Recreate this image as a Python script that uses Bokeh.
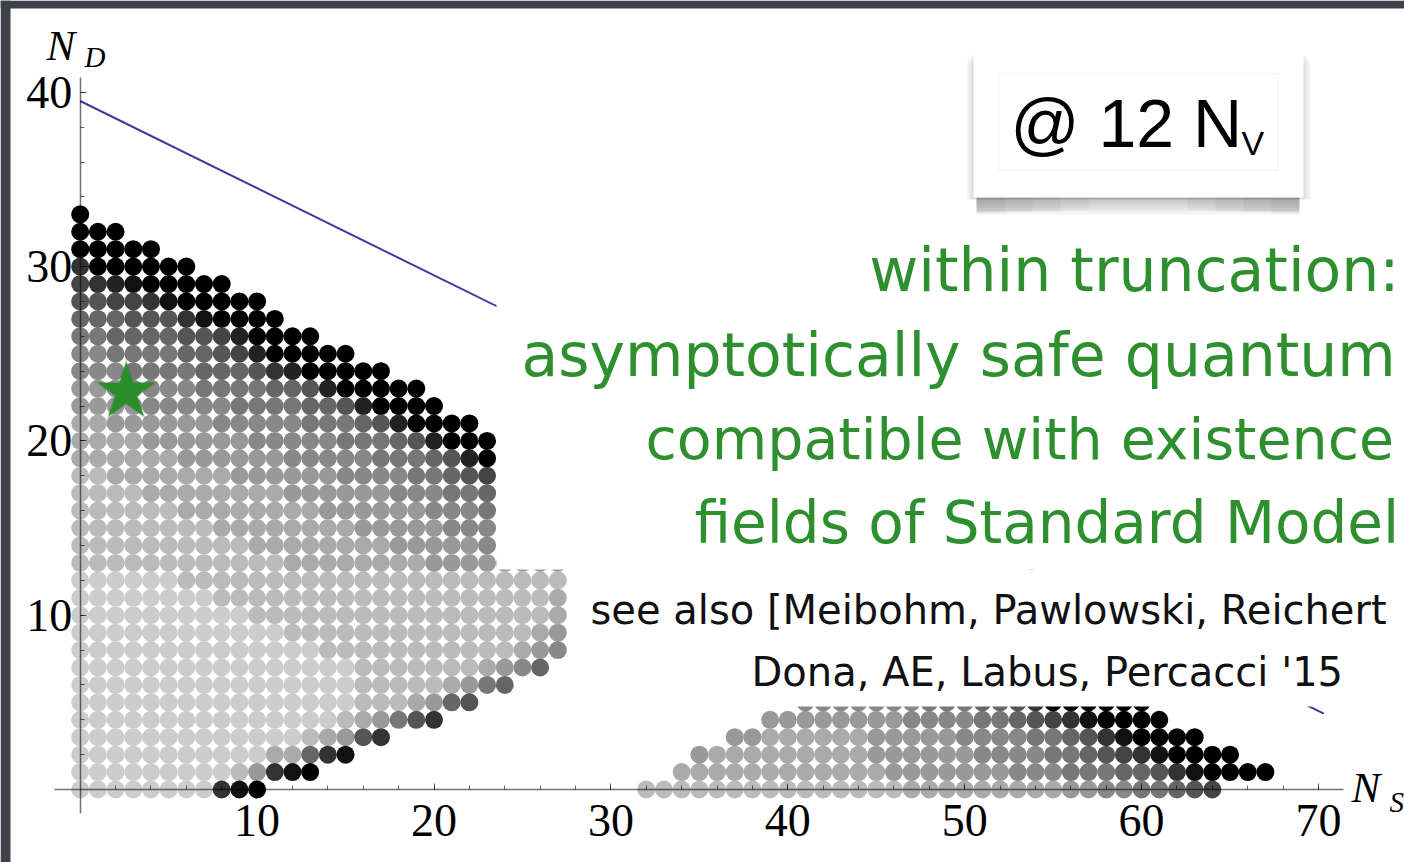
from bokeh.plotting import figure
from bokeh.models import Range1d, FixedTicker, BoxAnnotation, Label, ColumnDataSource
from bokeh.embed import file_html
from bokeh.resources import INLINE

# ---------------- data ----------------
# grey level of every dot, run-length coded per row: "<hex grey>*<count>", left to right
left_nd = [33, 32, 31, 30, 29, 28, 27, 26, 25, 24, 23, 22, 21, 20, 19, 18, 17,
           16, 15, 14, 13, 12, 11, 10, 9, 8, 7, 6, 5, 4, 3, 2, 1, 0]
left_ns_start = [0] * 34
left_grey = [
    "0*1",
    "0*3",
    "0*5",
    "3*1 0*6",
    "4*1 3*1 2*1 1*1 0*5",
    "5*2 4*2 3*1 1*1 0*5",
    "6*3 5*3 3*1 1*1 0*4",
    "7*2 6*4 5*2 4*1 2*1 0*4",
    "8*2 7*4 6*2 5*1 4*1 2*1 0*5",
    "8*3 7*4 6*3 5*1 3*1 2*1 0*5",
    "9*3 8*4 7*4 6*2 5*1 2*1 0*5",
    "9*4 8*5 7*4 6*2 5*1 2*1 0*4",
    "a*2 9*6 8*5 7*3 6*1 5*1 2*1 0*4",
    "a*4 9*6 8*5 7*3 6*1 5*1 2*1 0*3",
    "a*6 9*6 8*5 7*3 6*1 5*1 2*1 0*1",
    "b*2 a*7 9*6 8*4 7*2 6*1 5*1 4*1",
    "b*4 a*8 9*6 8*3 7*2 6*1",
    "b*6 a*8 9*6 8*3 7*1",
    "b*8 a*8 9*5 8*3",
    "b*10 a*8 9*5 8*1",
    "b*12 a*8 9*8",
    "c*6 b*22",
    "c*8 b*19 a*1",
    "c*10 b*17 a*1",
    "c*12 b*14 a*1 9*1",
    "c*14 b*11 a*1 9*1 8*1",
    "c*16 b*7 a*1 9*1 8*1 6*1",
    "c*16 b*5 a*1 9*1 7*1 6*1",
    "c*16 b*3 a*1 9*1 6*1 5*1",
    "c*15 b*1 a*1 9*1 7*1 5*1 3*1",
    "c*13 b*1 a*1 9*1 5*1 3*1",
    "c*11 a*2 6*1 3*1 1*1",
    "c*9 b*1 9*1 3*1 1*1 0*1",
    "c*8 3*1 1*1 0*1",
]
right_nd = [0, 1, 2, 3, 4, 5]
right_ns_start = [32, 34, 35, 37, 39, 41]
right_grey = [
    "b*15 a*9 9*2 8*2 7*2 6*1 5*1 4*1",
    "a*12 9*7 8*3 7*3 6*2 5*1 3*1 1*1 0*4",
    "9*1 a*9 9*6 8*4 7*2 6*1 5*1 4*1 3*1 1*1 0*4",
    "9*2 a*6 9*5 8*4 7*2 6*1 5*1 3*1 1*1 0*4",
    "9*8 8*4 7*2 6*1 5*1 4*1 3*1 1*1 0*4",
    "8*7 7*3 6*2 5*1 3*1 0*6",
]
bound_ns = [0.0, 70.3]
bound_nd = [39.5, 4.35]
star_ns = [2.6]
star_nd = [22.8]
x_ticks = [10, 20, 30, 40, 50, 60, 70]
y_ticks = [10, 20, 30, 40]


def expand(nds, starts, codes):
    xs, ys, cs = [], [], []
    for nd, s, code in zip(nds, starts, codes):
        k = s
        for tok in code.split():
            h, n = tok.split("*")
            for _ in range(int(n)):
                xs.append(k)
                ys.append(nd)
                cs.append("#" + h * 6)
                k += 1
    return xs, ys, cs


lx, ly, lc = expand(left_nd, left_ns_start, left_grey)
rx, ry, rc = expand(right_nd, right_ns_start, right_grey)
dots = ColumnDataSource(dict(ns=lx + rx, nd=ly + ry, c=lc + rc))

# ---------------- layout (page pixels -> data) ----------------
W, H = 1404, 862
X0, SX = 79.7, 17.69
Y0, SY = 789.0, 17.43


def dx(px):
    return (px - X0) / SX


def dy(py):
    return (Y0 - py) / SY


p = figure(width=W, height=H,
           x_range=Range1d(dx(0), dx(W)), y_range=Range1d(dy(H), dy(0)),
           output_backend="svg", toolbar_location=None, min_border=0,
           outline_line_color=None, background_fill_color="white",
           border_fill_color="white")
p.grid.visible = False

p.scatter("ns", "nd", source=dots, marker="circle", size=18,
          fill_color="c", line_color=None)
p.line(bound_ns, bound_nd, line_color="#3c3c9e", line_width=2.0)
p.scatter(star_ns, star_nd, marker="star", size=70, fill_color="#555555",
          fill_alpha=0.12, line_color=None)
p.scatter(star_ns, star_nd, marker="star", size=65, fill_color="#555555",
          fill_alpha=0.15, line_color=None)
p.scatter(star_ns, star_nd, marker="star", size=60, fill_color="#2a8f2a",
          line_color=None)

# axes through the origin
p.xaxis.fixed_location = 0
p.yaxis.fixed_location = 0
p.xaxis.ticker = FixedTicker(ticks=x_ticks, minor_ticks=list(range(2, 71, 2)))
p.yaxis.ticker = FixedTicker(ticks=y_ticks, minor_ticks=list(range(2, 41, 2)))
p.xaxis.bounds = (dx(54), dx(1343))
p.yaxis.bounds = (dy(813), dy(77))
for ax in (p.xaxis[0], p.yaxis[0]):
    ax.axis_line_color = "black"
    ax.axis_line_alpha = 0.55
    ax.axis_line_width = 1.5
    ax.major_tick_line_color = "black"
    ax.major_tick_line_alpha = 0.6
    ax.minor_tick_line_color = "black"
    ax.minor_tick_line_alpha = 0.6
    ax.major_tick_in = 6
    ax.major_tick_out = 0
    ax.minor_tick_in = 4
    ax.minor_tick_out = 0
    ax.major_label_text_font = "Liberation Serif"
    ax.major_label_text_font_size = "46px"
    ax.major_label_text_color = "black"
p.xaxis.major_label_standoff = 15
p.yaxis.major_label_standoff = 8


def box(l, r, t, b, **kw):
    p.add_layout(BoxAnnotation(left=dx(l), right=dx(r), top=dy(t), bottom=dy(b),
                               line_color=None, **kw))


# dark slide background strips
SLIDE = "#3e4148"
box(0, W, 0, 8, fill_color=SLIDE, fill_alpha=1)
box(0, 10, 0, H, fill_color=SLIDE, fill_alpha=1)

# white text panels of the slide
box(496, W, 230, 569, fill_color="white", fill_alpha=1)
box(568, W, 569, 706, fill_color="white", fill_alpha=1)

# "@ 12 Nv" card with soft shadow
for i in range(4):
    box(972 - i * 2, 1304 + i * 2, 52 + i * 3, 199, fill_color="black", fill_alpha=0.035)
for i in range(6):
    box(976, 1299, 197, 199 + 3 * i, fill_color="black", fill_alpha=0.045)
for j in range(1, 5):
    box(976, 976 + 28 * j, 197, 214 - j, fill_color="black", fill_alpha=0.04)
    box(1299 - 28 * j, 1299, 197, 214 - j, fill_color="black", fill_alpha=0.04)
box(973, 1303, 47, 197, fill_color="white", fill_alpha=1)
p.add_layout(BoxAnnotation(left=dx(998), right=dx(1277), top=dy(73), bottom=dy(170),
                           fill_alpha=0, line_color="#d6d6d6", line_width=1.2))

LIFT = 0.37  # baseline correction, in em


def label(x, y, text, font, size, color="black", style="normal", align="left"):
    p.add_layout(Label(x=dx(x), y=dy(y - LIFT * size), text=text, text_font=font,
                       text_font_size=f"{size}px", text_color=color,
                       text_font_style=style, text_align=align,
                       text_baseline="alphabetic"))


label(1010, 148, "@ 12 N", "Liberation Sans", 68)
label(1241, 155, "V", "Liberation Sans", 34)

# axis names
label(46, 61, "N", "Liberation Serif", 43, style="italic")
label(84, 67, "D", "Liberation Serif", 29, style="italic")
label(1351, 803, "N", "Liberation Serif", 43, style="italic")
label(1389, 812, "S", "Liberation Serif", 29, style="italic")

# slide text
G = "#2d8f2d"
label(1399, 292, "within truncation:", "DejaVu Sans", 60, G, align="right")
label(521, 377, "asymptotically safe quantum", "DejaVu Sans", 60, G)
label(645, 460, "compatible with existence", "DejaVu Sans", 57, G)
label(694, 544, "fields of Standard Model", "DejaVu Sans", 58, G)
label(590, 624, "see also [Meibohm, Pawlowski, Reichert", "DejaVu Sans", 40, "#111111")
label(751, 686, "Dona, AE, Labus, Percacci '15", "DejaVu Sans", 40, "#111111")

html = file_html(p, INLINE, title="N_D vs N_S")
open("out.html", "w").write(html)
